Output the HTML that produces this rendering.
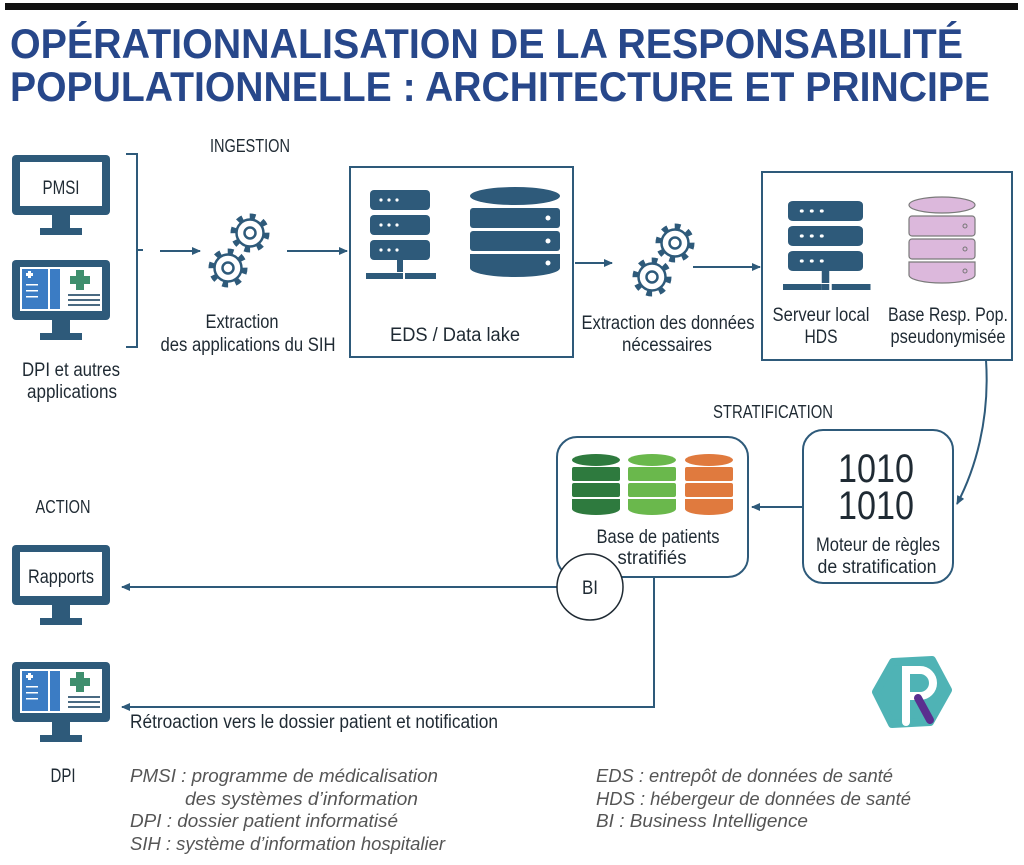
<!DOCTYPE html>
<html><head><meta charset="utf-8"><style>
html,body{margin:0;padding:0;background:#fff;}
svg{display:block;}
.t{font-family:"Liberation Sans Narrow","Liberation Sans",sans-serif;fill:#1f2a33;font-size:19px;}
.h{font-family:"Liberation Sans Narrow","Liberation Sans",sans-serif;fill:#1f2a33;font-size:18px;}
.l{font-family:"Liberation Sans",sans-serif;font-style:italic;fill:#555;font-size:18px;}
</style></head><body>
<svg width="1024" height="865" viewBox="0 0 1024 865" xmlns="http://www.w3.org/2000/svg">
<defs>
<marker id="ar" markerWidth="10" markerHeight="10" refX="8" refY="5" orient="auto" markerUnits="userSpaceOnUse">
<path d="M0,1 L9,5 L0,9 Z" fill="#2e5a7a"/></marker>
<g id="mon">
<rect x="0" y="0" width="98" height="60" rx="4" fill="#2e5a7a"/>
<rect x="8" y="7" width="82" height="44" fill="#fff"/>
<rect x="40" y="60" width="18" height="14" fill="#2e5a7a"/>
<rect x="28" y="73" width="42" height="7" fill="#2e5a7a"/>
</g>
<g id="dpiscreen">
<rect x="10" y="9" width="26" height="40" fill="#3b7cc4"/>
<rect x="38" y="9" width="10" height="40" fill="#3b7cc4"/>
<rect x="14" y="13" width="7" height="3" fill="#fff"/><rect x="16" y="11" width="3" height="7" fill="#fff"/>
<rect x="14" y="24" width="12" height="1.5" fill="#fff"/><rect x="14" y="30" width="12" height="1.5" fill="#fff"/><rect x="14" y="36" width="12" height="1.5" fill="#fff"/>
<rect x="64" y="10" width="8" height="20" fill="#3f8f6e"/><rect x="58" y="16" width="20" height="8" fill="#3f8f6e"/>
<rect x="56" y="34" width="32" height="2" fill="#4a6a82"/><rect x="56" y="39" width="32" height="2" fill="#4a6a82"/><rect x="56" y="44" width="32" height="2" fill="#4a6a82"/>
</g>
<g id="gear">
<circle r="16" fill="none" stroke="#2e5a7a" stroke-width="7" stroke-dasharray="5.5 7"/>
<circle r="13.5" fill="#fff" stroke="#2e5a7a" stroke-width="2.5"/>
<circle r="5.5" fill="none" stroke="#2e5a7a" stroke-width="2.5"/>
</g>
<g id="srv">
<rect x="0" y="0" width="60" height="20" rx="4" fill="#2e5a7a"/>
<rect x="0" y="25" width="60" height="20" rx="4" fill="#2e5a7a"/>
<rect x="0" y="50" width="60" height="20" rx="4" fill="#2e5a7a"/>
<g fill="#fff"><circle cx="11" cy="10" r="1.6"/><circle cx="19" cy="10" r="1.6"/><circle cx="27" cy="10" r="1.6"/>
<circle cx="11" cy="35" r="1.6"/><circle cx="19" cy="35" r="1.6"/><circle cx="27" cy="35" r="1.6"/>
<circle cx="11" cy="60" r="1.6"/><circle cx="19" cy="60" r="1.6"/><circle cx="27" cy="60" r="1.6"/></g>
<rect x="27" y="70" width="6" height="12" fill="#2e5a7a"/>
<rect x="-4" y="83" width="31" height="6" fill="#2e5a7a"/><rect x="27" y="83" width="6" height="6" fill="#2e5a7a"/><rect x="35" y="83" width="31" height="6" fill="#2e5a7a"/>
</g>
</defs>

<rect x="5" y="3" width="1013" height="7" fill="#111"/>
<g font-family="'Liberation Sans Narrow','Liberation Sans',sans-serif" font-weight="bold" fill="#27478a" font-size="42">
<text x="10" y="58" textLength="953" lengthAdjust="spacingAndGlyphs">OPÉRATIONNALISATION DE LA RESPONSABILITÉ</text>
<text x="10" y="101" textLength="980" lengthAdjust="spacingAndGlyphs">POPULATIONNELLE : ARCHITECTURE ET PRINCIPE</text>
</g>

<text class="h" x="210" y="152" textLength="80" lengthAdjust="spacingAndGlyphs">INGESTION</text>

<use href="#mon" x="12" y="155"/>
<text class="t" x="61" y="194" text-anchor="middle" font-size="22" textLength="37" lengthAdjust="spacingAndGlyphs">PMSI</text>
<use href="#mon" x="12" y="260"/>
<use href="#dpiscreen" x="12" y="260"/>
<text class="t" x="71" y="376" text-anchor="middle" textLength="98" lengthAdjust="spacingAndGlyphs">DPI et autres</text>
<text class="t" x="72" y="398" text-anchor="middle" textLength="90" lengthAdjust="spacingAndGlyphs">applications</text>

<path d="M126,154 H137 V347 H126 M137,250 H143" fill="none" stroke="#2e5a7a" stroke-width="2"/>
<line x1="160" y1="251" x2="200" y2="251" stroke="#2e5a7a" stroke-width="2" marker-end="url(#ar)"/>
<use href="#gear" x="250" y="233"/>
<use href="#gear" x="228" y="268"/>
<line x1="287" y1="251" x2="347" y2="251" stroke="#2e5a7a" stroke-width="2" marker-end="url(#ar)"/>
<text class="t" x="242" y="328" text-anchor="middle" textLength="73" lengthAdjust="spacingAndGlyphs">Extraction</text>
<text class="t" x="248" y="351" text-anchor="middle" textLength="175" lengthAdjust="spacingAndGlyphs">des applications du SIH</text>

<rect x="350" y="167" width="223" height="190" fill="none" stroke="#2e5a7a" stroke-width="2"/>
<use href="#srv" x="370" y="190"/>
<g fill="#2e5a7a">
<ellipse cx="515" cy="196" rx="45" ry="9"/>
<rect x="470" y="208" width="90" height="20" rx="3"/>
<rect x="470" y="231" width="90" height="20" rx="3"/>
<path d="M470,254 H560 V268 A45,9 0 0 1 470,268 Z"/>
</g>
<g fill="#fff"><circle cx="548" cy="218" r="2.5"/><circle cx="548" cy="241" r="2.5"/><circle cx="548" cy="263" r="2.5"/></g>
<text class="t" x="455" y="341" text-anchor="middle" textLength="130" lengthAdjust="spacingAndGlyphs">EDS / Data lake</text>

<line x1="575" y1="263" x2="612" y2="263" stroke="#2e5a7a" stroke-width="2" marker-end="url(#ar)"/>
<use href="#gear" x="675" y="243"/>
<use href="#gear" x="652" y="277"/>
<line x1="693" y1="267" x2="760" y2="267" stroke="#2e5a7a" stroke-width="2" marker-end="url(#ar)"/>
<text class="t" x="668" y="329" text-anchor="middle" textLength="173" lengthAdjust="spacingAndGlyphs">Extraction des données</text>
<text class="t" x="667" y="351" text-anchor="middle" textLength="90" lengthAdjust="spacingAndGlyphs">nécessaires</text>

<rect x="762" y="172" width="250" height="188" fill="none" stroke="#2e5a7a" stroke-width="2"/>
<g transform="translate(788,201) scale(1.25,1)"><use href="#srv"/></g>
<g fill="#dcb8dc" stroke="#7a7a7a" stroke-width="1.2">
<ellipse cx="942" cy="205" rx="33" ry="8"/>
<rect x="909" y="216" width="66" height="20" rx="3"/>
<rect x="909" y="239" width="66" height="20" rx="3"/>
<path d="M909,262 H975 V275 A33,8 0 0 1 909,275 Z"/>
</g>
<g fill="none" stroke="#777"><circle cx="965" cy="226" r="2"/><circle cx="965" cy="249" r="2"/><circle cx="965" cy="271" r="2"/></g>
<text class="t" x="821" y="321" text-anchor="middle" textLength="97" lengthAdjust="spacingAndGlyphs">Serveur local</text>
<text class="t" x="821" y="343" text-anchor="middle" textLength="33" lengthAdjust="spacingAndGlyphs">HDS</text>
<text class="t" x="948" y="321" text-anchor="middle" textLength="120" lengthAdjust="spacingAndGlyphs">Base Resp. Pop.</text>
<text class="t" x="948" y="343" text-anchor="middle" textLength="115" lengthAdjust="spacingAndGlyphs">pseudonymisée</text>

<path d="M986,360 C990,420 975,470 957,504" fill="none" stroke="#2e5a7a" stroke-width="2" marker-end="url(#ar)"/>
<text class="h" x="773" y="418" text-anchor="middle" textLength="120" lengthAdjust="spacingAndGlyphs">STRATIFICATION</text>

<rect x="803" y="430" width="150" height="153" rx="20" fill="none" stroke="#2e5a7a" stroke-width="2"/>
<g font-family="'Liberation Sans Narrow','Liberation Sans',sans-serif" font-size="40" fill="#1f2a33">
<text x="876" y="482" text-anchor="middle" textLength="76" lengthAdjust="spacingAndGlyphs">1010</text>
<text x="876" y="519" text-anchor="middle" textLength="76" lengthAdjust="spacingAndGlyphs">1010</text>
</g>
<text class="t" x="878" y="551" text-anchor="middle" textLength="124" lengthAdjust="spacingAndGlyphs">Moteur de règles</text>
<text class="t" x="877" y="573" text-anchor="middle" textLength="119" lengthAdjust="spacingAndGlyphs">de stratification</text>

<line x1="803" y1="507" x2="752" y2="507" stroke="#2e5a7a" stroke-width="2" marker-end="url(#ar)"/>

<rect x="557" y="437" width="191" height="140" rx="20" fill="none" stroke="#2e5a7a" stroke-width="2"/>
<g>
<g fill="#2e7a3e"><ellipse cx="596" cy="460" rx="24" ry="6"/><rect x="572" y="467" width="48" height="14" rx="2"/><rect x="572" y="483" width="48" height="14" rx="2"/><path d="M572,499 H620 V509 A24,6 0 0 1 572,509Z"/></g>
<g fill="#6ab84c"><ellipse cx="652" cy="460" rx="24" ry="6"/><rect x="628" y="467" width="48" height="14" rx="2"/><rect x="628" y="483" width="48" height="14" rx="2"/><path d="M628,499 H676 V509 A24,6 0 0 1 628,509Z"/></g>
<g fill="#e07a3e"><ellipse cx="709" cy="460" rx="24" ry="6"/><rect x="685" y="467" width="48" height="14" rx="2"/><rect x="685" y="483" width="48" height="14" rx="2"/><path d="M685,499 H733 V509 A24,6 0 0 1 685,509Z"/></g>
</g>
<text class="t" x="658" y="543" text-anchor="middle" textLength="123" lengthAdjust="spacingAndGlyphs">Base de patients</text>
<text class="t" x="652" y="564" text-anchor="middle" textLength="69" lengthAdjust="spacingAndGlyphs">stratifiés</text>

<line x1="557" y1="587" x2="122" y2="587" stroke="#2e5a7a" stroke-width="2" marker-end="url(#ar)"/>
<circle cx="590" cy="587" r="33" fill="#fff" stroke="#1f2a33" stroke-width="1.5"/>
<text class="t" x="590" y="594" text-anchor="middle" textLength="16" lengthAdjust="spacingAndGlyphs">BI</text>
<path d="M654,577 V707 H122" fill="none" stroke="#2e5a7a" stroke-width="2" marker-end="url(#ar)"/>

<text class="h" x="63" y="513" text-anchor="middle" textLength="55" lengthAdjust="spacingAndGlyphs">ACTION</text>
<use href="#mon" x="12" y="545"/>
<text class="t" x="61" y="583" text-anchor="middle" font-size="21" textLength="66" lengthAdjust="spacingAndGlyphs">Rapports</text>
<use href="#mon" x="12" y="662"/>
<use href="#dpiscreen" x="12" y="662"/>
<text class="t" x="63" y="782" text-anchor="middle" font-size="22" textLength="25" lengthAdjust="spacingAndGlyphs">DPI</text>
<text class="t" x="130" y="728" textLength="368" lengthAdjust="spacingAndGlyphs">Rétroaction vers le dossier patient et notification</text>

<text class="l" x="130" y="782" textLength="308" lengthAdjust="spacingAndGlyphs">PMSI : programme de médicalisation</text>
<text class="l" x="185" y="805" textLength="233" lengthAdjust="spacingAndGlyphs">des systèmes d’information</text>
<text class="l" x="130" y="827" textLength="268" lengthAdjust="spacingAndGlyphs">DPI : dossier patient informatisé</text>
<text class="l" x="130" y="850" textLength="315" lengthAdjust="spacingAndGlyphs">SIH : système d’information hospitalier</text>
<text class="l" x="596" y="782" textLength="297" lengthAdjust="spacingAndGlyphs">EDS : entrepôt de données de santé</text>
<text class="l" x="596" y="805" textLength="315" lengthAdjust="spacingAndGlyphs">HDS : hébergeur de données de santé</text>
<text class="l" x="596" y="827" textLength="212" lengthAdjust="spacingAndGlyphs">BI : Business Intelligence</text>

<path d="M893,662 L932,660 L948,690 L930,722 L892,724 L876,692 Z" fill="#4fb3b5" stroke="#4fb3b5" stroke-width="8" stroke-linejoin="round"/>
<path d="M906,722 V670 H920 A13,13 0 0 1 920,696 H906" fill="none" stroke="#fff" stroke-width="8" stroke-linecap="round"/>
<line x1="918" y1="698" x2="930" y2="720" stroke="#5a2e8f" stroke-width="8" stroke-linecap="round"/>
</svg>
</body></html>
